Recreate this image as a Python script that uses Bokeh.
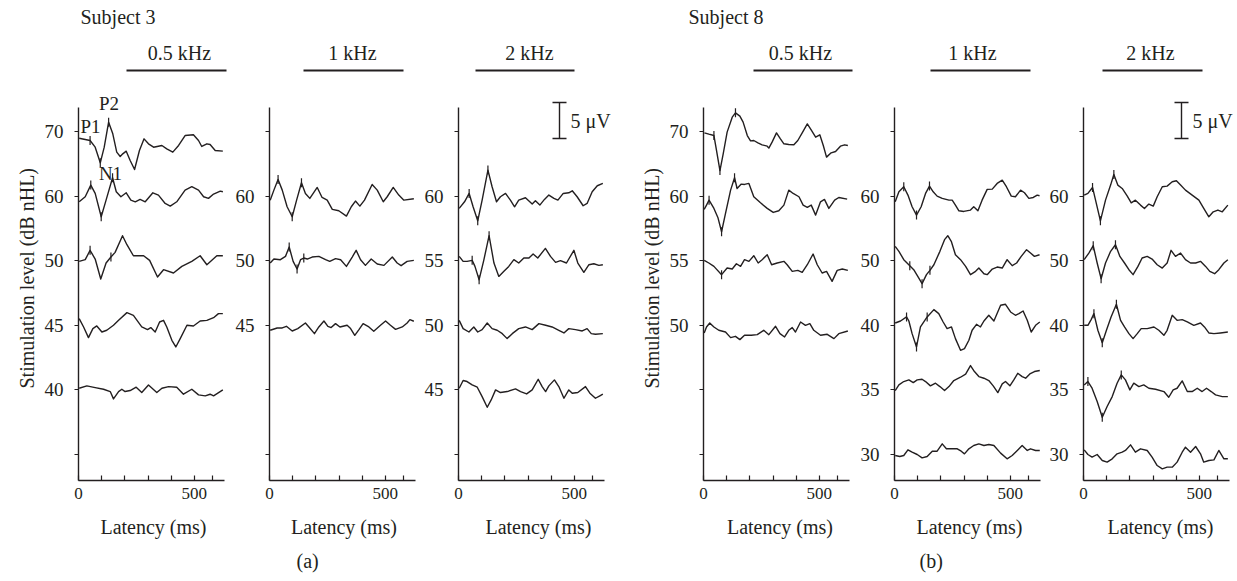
import numpy as np
from bokeh.plotting import figure
from bokeh.models import Range1d, FixedTicker, Label, Title
from bokeh.layouts import row
from bokeh.embed import file_html
from bokeh.resources import INLINE

# ---------------- data ----------------
X_TICKS = [0, 100, 200, 300, 400, 500, 580]
X_LABELED = [0, 500]

# level labels per panel, top slot (6) to bottom slot (1)
s3_05k_levels = ["70", "60", "50", "45", "40", ""]
s3_1k_levels = ["", "60", "50", "45", "", ""]
s3_2k_levels = ["", "60", "55", "50", "45", ""]
s8_05k_levels = ["70", "60", "55", "50", "", ""]
s8_1k_levels = ["", "60", "50", "40", "35", "30"]
s8_2k_levels = ["", "60", "50", "40", "35", "30"]

# Subject 3, 0.5 kHz  (latency ms / amplitude uV)
s3_05k_70_ms = [3, 50, 72, 94, 111, 130, 148, 165, 180, 191, 206, 223, 242, 263, 283, 302, 324, 360, 381, 407, 432, 460, 496, 518, 532, 554, 568, 590, 623]
s3_05k_70_uv = [-0.93, -1.25, -2.18, -4.35, -2.18, 1.30, -0.32, -2.87, -3.47, -3.10, -2.73, -4.03, -5.28, -2.64, -1.02, -1.71, -2.18, -1.94, -2.41, -2.87, -1.94, -0.56, -0.46, -1.25, -2.08, -1.71, -1.81, -2.64, -2.73]
s3_05k_70_peaks = [50, 94, 130]
s3_05k_60_ms = [3, 29, 53, 72, 98, 119, 147, 163, 183, 206, 226, 245, 266, 288, 321, 345, 374, 396, 424, 460, 489, 518, 540, 561, 583, 612, 623]
s3_05k_60_uv = [-0.79, -0.09, 1.53, 0.37, -2.87, -0.56, 2.55, 0.60, -0.09, 0.46, -0.56, -0.79, -0.46, -0.79, 0.46, 0.14, -1.02, -1.39, -0.79, 0.83, 1.30, 0.83, -0.09, -0.32, 0.28, 0.69, 0.60]
s3_05k_60_peaks = [53, 98, 147]
s3_05k_50_ms = [3, 29, 50, 72, 96, 119, 140, 158, 190, 209, 237, 281, 307, 341, 367, 410, 446, 489, 525, 554, 597, 623]
s3_05k_50_uv = [-0.09, 0.14, 1.44, 0.23, -2.55, -0.32, 0.51, 1.16, 3.47, 2.22, 0.69, 0.69, 0.05, -2.27, -1.25, -1.71, -0.79, -0.09, 0.69, -0.56, 0.69, 0.69]
s3_05k_50_peaks = [50, 140]
s3_05k_45_ms = [3, 22, 43, 62, 79, 101, 122, 151, 173, 209, 237, 273, 298, 312, 331, 350, 367, 381, 403, 420, 439, 468, 496, 525, 554, 583, 604, 623]
s3_05k_45_uv = [0.93, -0.23, -1.71, -0.46, -0.09, -0.93, -0.69, 0.0, 0.69, 1.76, 1.39, -0.23, -0.60, -0.32, -0.93, 0.46, 0.69, -0.23, -2.08, -3.01, -1.85, 0.0, -0.09, 0.60, 0.69, 1.06, 1.62, 1.62]
s3_05k_40_ms = [3, 36, 72, 108, 137, 151, 173, 187, 201, 223, 249, 273, 302, 338, 360, 389, 424, 453, 489, 518, 547, 568, 583, 623]
s3_05k_40_uv = [0.23, 0.56, 0.32, 0.09, -0.23, -1.25, -0.23, 0.09, -0.23, -0.09, 0.37, -0.37, 0.69, -0.37, 0.23, 0.46, 0.37, -0.60, 0.09, -0.69, -0.83, -0.60, -0.83, 0.0]

# Subject 3, 1 kHz
s3_1k_60_ms = [3, 19, 37, 55, 76, 98, 117, 138, 155, 174, 206, 227, 249, 271, 299, 332, 353, 371, 390, 410, 443, 465, 491, 508, 534, 558, 580, 623]
s3_1k_60_uv = [-0.56, 0.83, 2.31, 0.83, -1.48, -2.87, -0.56, 1.85, 0.37, -0.32, 1.20, -0.19, -0.56, -1.85, -2.04, -2.78, -1.48, -0.69, -1.39, -0.56, 1.62, 0.83, -0.79, -0.09, 1.20, 0.14, -0.56, -0.37]
s3_1k_60_peaks = [37, 98, 138]
s3_1k_50_ms = [3, 19, 47, 69, 85, 102, 119, 134, 148, 163, 184, 213, 242, 260, 285, 307, 332, 357, 374, 393, 414, 439, 465, 494, 530, 551, 568, 594, 623]
s3_1k_50_uv = [-0.32, 0.23, 0.14, 0.60, 1.90, -0.09, -1.16, 0.14, 0.37, 0.23, 0.51, 0.60, 0.14, -0.09, 0.28, 0.14, -0.79, 0.51, 1.44, 0.14, -0.65, 0.23, -0.46, -0.65, 0.51, -0.32, -0.69, -0.09, 0.05]
s3_1k_50_peaks = [85, 119, 148]
s3_1k_45_ms = [3, 33, 55, 73, 98, 122, 155, 170, 194, 213, 235, 252, 266, 285, 304, 335, 350, 368, 386, 404, 429, 450, 479, 501, 522, 544, 573, 594, 606, 623]
s3_1k_45_uv = [-0.69, -0.37, -0.37, -0.14, -0.79, -0.46, 0.32, -0.23, -1.16, -0.23, 0.60, -0.14, -0.32, 0.23, -0.23, 0.0, -0.46, -1.39, -0.60, 0.23, -0.23, -0.83, 0.0, 0.60, 0.0, -0.56, -0.23, 0.32, 0.79, 0.56]

# Subject 3, 2 kHz
s3_2k_60_ms = [3, 26, 46, 63, 83, 102, 127, 145, 164, 181, 203, 224, 242, 260, 289, 318, 332, 351, 371, 390, 412, 429, 452, 476, 491, 512, 538, 555, 577, 599, 623]
s3_2k_60_uv = [-1.71, -0.79, 0.37, -1.48, -3.43, -0.56, 3.61, 1.30, -0.79, -0.09, 0.37, -0.56, -1.48, -0.56, -0.23, -1.11, -0.65, -1.25, -0.46, 0.14, -0.32, -0.56, 0.37, 0.46, 0.74, -0.09, -1.34, -1.02, 0.60, 1.44, 1.76]
s3_2k_60_peaks = [46, 83, 127]
s3_2k_55_ms = [3, 20, 37, 59, 71, 89, 109, 132, 153, 174, 196, 217, 239, 260, 282, 304, 322, 342, 375, 397, 419, 440, 466, 498, 515, 541, 563, 584, 606, 623]
s3_2k_55_uv = [0.60, -0.09, -0.09, 0.05, -0.79, -2.64, 0.05, 3.47, -0.32, -2.18, -1.48, -0.79, 0.14, -0.32, 0.37, 0.37, 0.93, 0.37, 1.71, 0.60, -0.23, 0.0, -0.32, 1.44, -0.32, -1.62, -0.56, -0.42, -0.65, -0.56]
s3_2k_55_peaks = [59, 89, 132]
s3_2k_50_ms = [3, 20, 45, 66, 83, 102, 124, 145, 167, 189, 210, 232, 260, 289, 318, 347, 376, 404, 433, 455, 476, 505, 534, 555, 573, 591, 623]
s3_2k_50_uv = [0.69, -0.46, -0.93, -0.23, -0.93, -0.60, 0.32, -0.46, -0.69, -1.16, -1.85, -1.16, -0.46, -0.23, -0.60, 0.23, 0.0, -0.23, -0.69, -1.06, -0.46, -0.60, -0.79, -0.46, -1.16, -1.25, -1.16]
s3_2k_45_ms = [3, 20, 37, 59, 81, 102, 124, 141, 160, 181, 210, 246, 268, 294, 318, 344, 361, 376, 390, 414, 433, 455, 476, 491, 515, 548, 567, 591, 610, 623]
s3_2k_45_uv = [0.23, 1.30, 1.16, 0.69, 0.37, -0.93, -2.41, -1.39, 0.0, -0.37, -0.23, 0.14, -0.23, -0.56, 0.0, 1.48, 0.46, -0.23, 0.56, 1.39, 0.46, -1.16, 0.0, -0.46, -0.37, 0.46, -0.46, -1.16, -0.83, -0.60]

# Subject 8, 0.5 kHz
s8_05k_70_ms = [4, 23, 45, 55, 71, 85, 102, 124, 138, 157, 171, 189, 203, 217, 235, 253, 275, 282, 296, 315, 332, 347, 368, 390, 407, 426, 448, 466, 484, 502, 517, 531, 551, 570, 591, 609, 623]
s8_05k_70_uv = [-0.19, -0.37, -0.56, -2.41, -5.42, -3.10, -0.09, 1.99, 2.59, 2.13, 1.30, -0.56, -1.30, -1.25, -1.57, -1.85, -2.04, -2.31, -1.48, -0.19, -1.02, -1.71, -1.81, -1.85, -1.25, -0.19, 1.06, 0.14, -0.79, -0.46, -1.94, -3.56, -2.96, -2.78, -2.04, -1.85, -1.94]
s8_05k_70_peaks = [45, 71, 138]
s8_05k_60_ms = [3, 13, 24, 45, 62, 78, 95, 117, 134, 145, 163, 177, 196, 217, 246, 275, 301, 325, 347, 368, 387, 412, 430, 448, 465, 484, 505, 522, 541, 566, 584, 620]
s8_05k_60_uv = [-1.85, -1.25, -0.56, -1.71, -2.96, -4.95, -2.41, 0.83, 2.55, 1.06, 1.67, 1.62, 1.76, -0.09, -0.93, -1.71, -2.27, -2.04, -1.25, 0.83, 0.37, -0.09, -1.25, -1.57, -1.25, -2.64, -0.79, -0.46, -1.71, -0.56, -0.19, -0.42]
s8_05k_60_peaks = [24, 78, 134]
s8_05k_55_ms = [3, 23, 45, 78, 102, 124, 142, 160, 177, 196, 217, 236, 253, 275, 294, 318, 347, 361, 383, 407, 426, 448, 473, 491, 512, 531, 555, 577, 599, 623]
s8_05k_55_uv = [0.05, -0.32, -0.79, -1.94, -1.02, -1.16, -0.42, -0.79, 0.14, -0.09, 0.69, -0.32, 0.14, 0.83, -0.56, -0.32, -0.09, -0.56, -1.48, -1.34, -1.62, -0.56, 0.93, -0.56, -1.71, -1.48, -2.87, -1.34, -1.16, -1.34]
s8_05k_55_peaks = [78]
s8_05k_50_ms = [3, 13, 27, 45, 66, 95, 117, 138, 157, 177, 206, 232, 260, 282, 311, 330, 350, 368, 383, 397, 419, 440, 459, 476, 505, 534, 563, 584, 623]
s8_05k_50_uv = [-1.06, -0.23, 0.32, -0.23, -0.69, -0.93, -1.71, -1.53, -1.99, -1.39, -1.39, -1.30, -0.69, -1.30, -0.14, -1.16, -1.62, -0.69, -0.32, -0.93, 0.46, 0.0, 0.23, -0.69, -1.39, -1.25, -1.85, -1.16, -0.79]

# Subject 8, 1 kHz
s8_1k_60_ms = [3, 19, 40, 58, 76, 95, 115, 134, 151, 167, 184, 206, 235, 249, 263, 278, 299, 328, 342, 360, 378, 400, 422, 443, 465, 483, 504, 522, 544, 561, 580, 599, 616, 626]
s8_1k_60_uv = [-0.79, 0.60, 1.30, 0.14, -1.48, -2.64, -1.48, 0.37, 1.39, 0.60, 0.0, -0.32, -0.56, -0.56, -1.25, -2.04, -2.13, -1.94, -1.48, -2.04, -0.56, 0.93, 0.97, 1.76, 2.22, 1.30, 0.0, -0.09, 0.83, 0.46, -0.32, -0.19, 0.14, 0.05]
s8_1k_60_peaks = [40, 95, 151]
s8_1k_50_ms = [3, 19, 40, 66, 83, 105, 119, 138, 153, 170, 196, 216, 230, 245, 263, 285, 307, 328, 350, 364, 386, 400, 422, 443, 465, 486, 508, 527, 547, 570, 587, 604, 626]
s8_1k_50_uv = [1.99, 1.30, 0.14, -0.69, -1.25, -2.41, -3.19, -1.94, -1.34, -0.56, 1.30, 2.92, 3.47, 2.69, 0.83, 0.14, -0.79, -1.94, -1.48, -1.02, -1.81, -1.94, -1.16, -0.88, -1.02, 0.14, -0.69, -0.32, 0.60, 1.53, 1.06, 0.60, 0.83]
s8_1k_50_peaks = [66, 119, 153]
s8_1k_40_ms = [3, 26, 52, 62, 76, 95, 112, 141, 170, 191, 210, 227, 246, 263, 285, 302, 321, 335, 354, 371, 386, 407, 429, 458, 479, 501, 522, 537, 555, 573, 590, 609, 627]
s8_1k_40_uv = [0.32, 0.60, 1.16, 0.60, -1.16, -3.01, -0.23, 1.16, 2.18, 1.62, 0.46, -0.46, -0.23, -1.85, -3.47, -3.24, -2.08, -0.69, 0.14, -0.23, 0.60, 1.39, 0.60, 2.78, 2.92, 1.85, 1.39, 1.62, 1.99, 0.69, -0.93, 0.0, 0.46]
s8_1k_40_peaks = [52, 95, 141]
s8_1k_35_ms = [3, 19, 40, 62, 81, 98, 119, 134, 155, 177, 196, 216, 235, 256, 285, 307, 328, 345, 364, 386, 407, 426, 446, 465, 479, 498, 515, 532, 551, 566, 584, 604, 627]
s8_1k_35_uv = [-0.09, 0.69, 1.16, 1.39, 1.02, 1.39, 1.48, 1.16, 0.56, 0.93, 0.46, -0.09, 0.46, 1.30, 1.76, 2.18, 3.38, 2.55, 1.85, 1.62, 1.30, 0.56, -0.37, 0.83, 1.16, 0.56, 1.39, 2.31, 1.85, 1.62, 2.22, 2.55, 2.69]
s8_1k_30_ms = [3, 23, 40, 58, 76, 98, 119, 141, 163, 184, 206, 224, 249, 271, 288, 302, 321, 342, 364, 386, 407, 429, 458, 486, 508, 530, 551, 573, 587, 609, 627]
s8_1k_30_uv = [-0.14, -0.28, -0.14, 0.65, 0.32, 0.0, -0.46, -0.28, 0.46, 0.46, 1.48, 0.79, 0.79, 0.79, 0.46, 0.09, 0.79, 1.25, 1.48, 1.25, 1.39, 1.25, 0.19, -0.60, -0.14, 0.56, 1.25, 0.56, 0.79, 0.56, 0.56]

# Subject 8, 2 kHz
s8_2k_60_ms = [3, 19, 39, 52, 73, 95, 117, 131, 148, 167, 189, 206, 224, 246, 263, 282, 301, 318, 340, 361, 383, 401, 419, 440, 469, 498, 519, 541, 560, 580, 599, 623]
s8_2k_60_uv = [0.14, 0.37, 1.20, -0.56, -3.43, -0.56, 1.53, 3.01, 1.53, 1.06, 0.0, -0.93, -0.56, -1.25, -1.71, -1.11, -1.39, -0.09, 1.30, 1.39, 1.99, 2.13, 1.53, 0.83, 0.14, -0.56, -1.71, -2.87, -2.18, -1.94, -2.18, -1.25]
s8_2k_60_peaks = [39, 73, 131]
s8_2k_50_ms = [3, 23, 42, 59, 76, 95, 117, 138, 157, 177, 196, 214, 235, 253, 275, 296, 318, 340, 361, 378, 397, 419, 440, 462, 484, 505, 527, 545, 566, 584, 606, 623]
s8_2k_50_uv = [0.14, 1.06, 2.08, -0.32, -2.50, -0.32, 1.30, 2.22, 0.60, -0.32, -1.25, -1.94, -0.79, 0.37, 0.60, 0.23, -0.56, -1.02, -0.32, 1.44, 0.60, 1.06, 0.14, -0.32, -0.32, -0.09, -0.79, -1.48, -1.81, -1.25, -0.32, 0.14]
s8_2k_50_peaks = [42, 76, 138]
s8_2k_40_ms = [3, 19, 33, 45, 62, 81, 99, 119, 142, 160, 177, 196, 214, 232, 249, 275, 304, 325, 347, 361, 383, 404, 426, 448, 476, 505, 522, 541, 563, 591, 623]
s8_2k_40_uv = [0.0, 0.0, 0.79, 1.62, -0.69, -2.41, -0.69, 1.16, 2.92, 0.69, -0.23, -1.16, -1.85, -1.16, -0.46, -0.46, -0.23, -0.69, -1.39, -0.69, 1.39, 0.69, 0.79, 0.46, 0.0, 0.32, -0.23, -1.06, -1.16, -1.06, -0.93]
s8_2k_40_peaks = [45, 81, 142]
s8_2k_35_ms = [3, 19, 37, 59, 81, 102, 124, 145, 163, 181, 200, 217, 239, 260, 282, 311, 347, 368, 387, 404, 426, 448, 469, 491, 512, 531, 551, 570, 599, 623]
s8_2k_35_uv = [0.69, 1.16, 0.23, -1.62, -3.80, -2.31, -0.93, 0.93, 2.08, 1.39, 0.0, 0.93, 0.46, 0.69, 0.23, 0.09, -0.23, -1.02, 0.0, 0.23, 1.25, -0.23, -0.23, 0.23, -0.23, 0.23, -0.23, -0.69, -0.93, -0.93]
s8_2k_35_peaks = [19, 81, 163]
s8_2k_30_ms = [3, 19, 37, 59, 81, 102, 124, 145, 167, 181, 203, 224, 246, 275, 296, 318, 340, 361, 383, 404, 426, 440, 462, 484, 505, 519, 541, 563, 584, 606, 623]
s8_2k_30_uv = [0.65, 0.0, -0.37, 0.0, -0.83, -1.06, -0.60, 0.09, 0.32, 0.56, 1.34, 0.32, 0.79, 0.56, -0.37, -1.53, -1.99, -1.76, -1.76, -1.06, 0.32, 1.02, 0.32, 1.11, 0.09, -1.06, -0.83, -0.74, 0.56, -0.60, -0.60]

SCALE_UV = 5

# ---------------- style / layout ----------------
INK = "#231f20"
FONT = "Liberation Serif"
CANVAS_H = 581
FRAME_TOP = 30          # page px of the frame top
FRAME_BOTTOM = 480      # page px of the x axis
FRAME_H = FRAME_BOTTOM - FRAME_TOP
PX_PER_MS = 0.2317
PX_PER_SLOT = 64.6
PX_PER_UV = 7.2
UV = PX_PER_UV / PX_PER_SLOT
Y_TOP = 6 + (131 - FRAME_TOP) / PX_PER_SLOT
Y_BOT = Y_TOP - FRAME_H / PX_PER_SLOT
AXIS_TOP = Y_TOP - (107 - FRAME_TOP) / PX_PER_SLOT
MARK = 4.5 / PX_PER_SLOT


def sy(py):
    return Y_TOP - (py - FRAME_TOP) / PX_PER_SLOT


def sx(px):
    return px / PX_PER_MS


panels = [
    dict(border=78, frame=150, levels=s3_05k_levels, header="0.5 kHz", head=(48, 148, 101),
         traces=[("70", s3_05k_70_ms, s3_05k_70_uv, s3_05k_70_peaks),
                 ("60", s3_05k_60_ms, s3_05k_60_uv, s3_05k_60_peaks),
                 ("50", s3_05k_50_ms, s3_05k_50_uv, s3_05k_50_peaks),
                 ("45", s3_05k_45_ms, s3_05k_45_uv, []),
                 ("40", s3_05k_40_ms, s3_05k_40_uv, [])],
         ylabel=True, subject=("Subject 3", 2), scale=None, caption=None, peaks_text=True),
    dict(border=41, frame=149, levels=s3_1k_levels, header="1 kHz", head=(34, 134, 83),
         traces=[("60", s3_1k_60_ms, s3_1k_60_uv, s3_1k_60_peaks),
                 ("50", s3_1k_50_ms, s3_1k_50_uv, s3_1k_50_peaks),
                 ("45", s3_1k_45_ms, s3_1k_45_uv, [])],
         ylabel=False, subject=None, scale=None, caption=("(a)", 27), peaks_text=False),
    dict(border=40, frame=160, levels=s3_2k_levels, header="2 kHz", head=(17, 116, 71),
         traces=[("60", s3_2k_60_ms, s3_2k_60_uv, s3_2k_60_peaks),
                 ("55", s3_2k_55_ms, s3_2k_55_uv, s3_2k_55_peaks),
                 ("50", s3_2k_50_ms, s3_2k_50_uv, []),
                 ("45", s3_2k_45_ms, s3_2k_45_uv, [])],
         ylabel=False, subject=None, scale=(101, 112), caption=None, peaks_text=False),
    dict(border=85, frame=153, levels=s8_05k_levels, header="0.5 kHz", head=(50, 149, 97),
         traces=[("70", s8_05k_70_ms, s8_05k_70_uv, s8_05k_70_peaks),
                 ("60", s8_05k_60_ms, s8_05k_60_uv, s8_05k_60_peaks),
                 ("55", s8_05k_55_ms, s8_05k_55_uv, s8_05k_55_peaks),
                 ("50", s8_05k_50_ms, s8_05k_50_uv, [])],
         ylabel=True, subject=("Subject 8", -15), scale=None, caption=None, peaks_text=False),
    dict(border=38, frame=150, levels=s8_1k_levels, header="1 kHz", head=(36, 136, 78),
         traces=[("60", s8_1k_60_ms, s8_1k_60_uv, s8_1k_60_peaks),
                 ("50", s8_1k_50_ms, s8_1k_50_uv, s8_1k_50_peaks),
                 ("40", s8_1k_40_ms, s8_1k_40_uv, s8_1k_40_peaks),
                 ("35", s8_1k_35_ms, s8_1k_35_uv, []),
                 ("30", s8_1k_30_ms, s8_1k_30_uv, [])],
         ylabel=False, subject=None, scale=None, caption=("(b)", 25), peaks_text=False),
    dict(border=39, frame=154, levels=s8_2k_levels, header="2 kHz", head=(19, 119, 67),
         traces=[("60", s8_2k_60_ms, s8_2k_60_uv, s8_2k_60_peaks),
                 ("50", s8_2k_50_ms, s8_2k_50_uv, s8_2k_50_peaks),
                 ("40", s8_2k_40_ms, s8_2k_40_uv, s8_2k_40_peaks),
                 ("35", s8_2k_35_ms, s8_2k_35_uv, s8_2k_35_peaks),
                 ("30", s8_2k_30_ms, s8_2k_30_uv, [])],
         ylabel=False, subject=None, scale=(98, 109), caption=None, peaks_text=False),
]


def add_text(p, x, y, text, size="20px", align="center", baseline="middle"):
    p.add_layout(Label(x=x, y=y, text=text, text_font=FONT, text_font_size=size,
                       text_color=INK, text_align=align, text_baseline=baseline))


def make_title(text, align, offset, standoff):
    return Title(text=text, align=align, offset=offset, standoff=standoff,
                 text_font=FONT, text_font_size="20px", text_font_style="normal",
                 text_color=INK)


def make_panel(spec):
    fw, bl = spec["frame"], spec["border"]
    p = figure(width=bl + fw, height=CANVAS_H,
               x_range=Range1d(0, sx(fw)), y_range=Range1d(Y_BOT, Y_TOP),
               output_backend="svg", toolbar_location=None,
               min_border_left=bl, min_border_right=0, min_border_top=FRAME_TOP,
               min_border_bottom=CANVAS_H - FRAME_BOTTOM)
    p.outline_line_color = None
    p.grid.visible = False

    xa = p.xaxis[0]
    xa.bounds = (0, 630)
    xa.ticker = FixedTicker(ticks=X_TICKS, minor_ticks=[])
    xa.major_label_overrides = {t: (str(t) if t in X_LABELED else "") for t in X_TICKS}
    xa.major_tick_in = 5
    xa.major_tick_out = 0
    xa.minor_tick_line_color = None
    xa.axis_label = "Latency (ms)"
    xa.axis_label_text_font = FONT
    xa.axis_label_text_font_size = "20px"
    xa.axis_label_text_font_style = "normal"
    xa.axis_label_text_color = INK
    xa.axis_label_standoff = 14
    xa.major_label_text_font = FONT
    xa.major_label_text_font_size = "17px"
    xa.major_label_text_color = INK
    xa.major_label_standoff = 7

    ya = p.yaxis[0]
    ya.bounds = (Y_BOT, AXIS_TOP)
    ticks = [6, 5, 4, 3, 2, 1]
    ya.ticker = FixedTicker(ticks=ticks, minor_ticks=[])
    ya.major_label_overrides = {t: lab for t, lab in zip(ticks, spec["levels"])}
    ya.major_tick_in = 0
    ya.major_tick_out = 4
    ya.minor_tick_line_color = None
    ya.major_label_text_font = FONT
    ya.major_label_text_font_size = "19px"
    ya.major_label_text_color = INK
    ya.major_label_standoff = 11

    for ax in (xa, ya):
        ax.axis_line_color = INK
        ax.axis_line_width = 1.4
        ax.major_tick_line_color = INK
        ax.major_tick_line_width = 1.2

    if spec["ylabel"]:
        p.add_layout(make_title("Stimulation level (dB nHL)", "left", 92, 8), "left")

    # traces and peak markers
    mx, my0, my1 = [], [], []
    for lev, ms, uv, peaks in spec["traces"]:
        base = 6 - spec["levels"].index(lev)
        ms_a = np.array(ms, dtype=float)
        uv_a = np.array(uv, dtype=float)
        p.line(ms_a, base + uv_a * UV, line_color=INK, line_width=1.4, line_join="round")
        for pk in peaks:
            yc = base + np.interp(pk, ms_a, uv_a) * UV
            mx.append(pk)
            my0.append(yc - MARK)
            my1.append(yc + MARK)
    if mx:
        p.segment(x0=mx, y0=my0, x1=mx, y1=my1, line_color=INK, line_width=1.2)

    # header
    h0, h1, hc = spec["head"]
    p.segment(x0=[sx(h0)], y0=[sy(70)], x1=[sx(h1)], y1=[sy(70)], line_color=INK, line_width=2)
    add_text(p, sx(hc), sy(52), spec["header"])

    if spec["subject"]:
        txt, dx = spec["subject"]
        p.add_layout(make_title(txt, "left", dx, 6), "above")

    if spec["caption"]:
        txt, dx = spec["caption"]
        p.add_layout(make_title(txt, "left", dx, 14), "below")

    if spec["scale"]:
        bx, tx = spec["scale"]
        top = sy(102)
        bot = top - SCALE_UV * UV
        cap = sx(7)
        p.segment(x0=[sx(bx), sx(bx) - cap, sx(bx) - cap], y0=[top, top, bot],
                  x1=[sx(bx), sx(bx) + cap, sx(bx) + cap], y1=[bot, top, bot],
                  line_color=INK, line_width=1.4)
        add_text(p, sx(tx), (top + bot) / 2, "5 \u03bcV", align="left")

    if spec["peaks_text"]:
        add_text(p, sx(12), sy(126), "P1", size="19px")
        add_text(p, sx(30.5), sy(102.5), "P2", size="19px")
        add_text(p, sx(32), sy(172.5), "N1", size="19px")
    return p


figs = [make_panel(s) for s in panels]
layout = row(*figs, spacing=0)
open("out.html", "w").write(file_html(layout, INLINE))
